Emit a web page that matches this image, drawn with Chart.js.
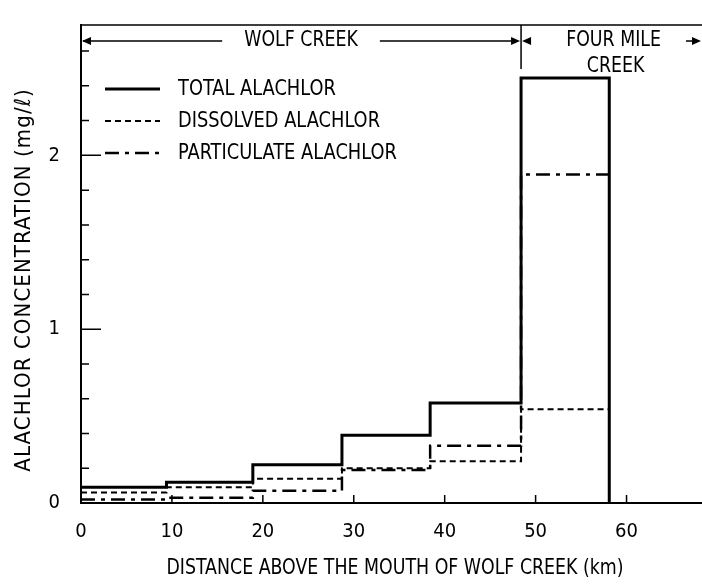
<!DOCTYPE html>
<html>
<head>
<meta charset="utf-8">
<script src="https://cdn.jsdelivr.net/npm/chart.js@4.4.1/dist/chart.umd.min.js"></script>
<style>
  html, body { margin: 0; padding: 0; background: #fff; }
  #wrap { width: 702px; height: 588px; }
</style>
</head>
<body>
<div id="wrap"><canvas id="c" width="702" height="588"></canvas></div>
<script>
const FONT = '"Liberation Sans Narrow", "DejaVu Sans Condensed", "Roboto Condensed", sans-serif';

// Reach boundaries along the stream (km above the mouth of Wolf Creek)
const reachBounds = [0, 9.4, 18.9, 28.7, 38.4, 48.4, 58.1];
// Mean concentration over each reach (mg/ℓ)
const totalAlachlor       = [0.09, 0.12, 0.22, 0.39, 0.575, 2.445];
const dissolvedAlachlor   = [0.06, 0.09, 0.14, 0.20, 0.24, 0.54];
const particulateAlachlor = [0.02, 0.03, 0.07, 0.19, 0.33, 1.89];

// Axis ticks
const xTickValues  = [0, 10, 20, 30, 40, 50, 60];
const yLabelValues = [0, 1, 2];
const yMinorValues = [0.2, 0.4, 0.6, 0.8, 1.2, 1.4, 1.6, 1.8, 2.2, 2.4, 2.6];

const seriesLabels = ['TOTAL ALACHLOR', 'DISSOLVED ALACHLOR', 'PARTICULATE ALACHLOR'];
const xTitle = 'DISTANCE ABOVE THE MOUTH OF WOLF CREEK (km)';
const yTitle = 'ALACHLOR CONCENTRATION (mg/ℓ)';
const wolfCreekLabel = 'WOLF CREEK';
const fourMileLabel = ['FOUR MILE', 'CREEK'];
const creekJunctionKm = reachBounds[5];

// One point at the start of every reach plus the end of the last reach
function stepPoints(values, dropToZero) {
  const pts = values.map((v, i) => ({ x: reachBounds[i], y: v }));
  const end = reachBounds[reachBounds.length - 1];
  pts.push({ x: end, y: values[values.length - 1] });
  if (dropToZero) pts.push({ x: end, y: 0 });
  return pts;
}

const seriesStyles = [
  { width: 3,   dash: [] },
  { width: 2,   dash: [6, 4] },
  { width: 2.5, dash: [14, 6, 4, 6] }
];

// Narrow lettering: text squeezed horizontally around its anchor
function letter(ctx, text, x, y, size, squeeze, align, angle, spacing) {
  ctx.save();
  ctx.translate(x, y);
  if (angle) ctx.rotate(angle);
  ctx.scale(squeeze, 1);
  ctx.font = size + 'px ' + FONT;
  if (spacing) ctx.letterSpacing = spacing;
  ctx.textAlign = align;
  ctx.textBaseline = 'middle';
  ctx.fillText(text, 0, 0);
  const w = ctx.measureText(text).width * squeeze;
  ctx.restore();
  return w;
}

function arrowHead(ctx, x, y, dir) {
  ctx.beginPath();
  ctx.moveTo(x, y);
  ctx.lineTo(x - dir * 9, y - 4);
  ctx.lineTo(x - dir * 9, y + 4);
  ctx.closePath();
  ctx.fill();
}

const annotations = {
  id: 'annotations',
  afterDatasetsDraw(chart) {
    const { ctx, chartArea: a, scales: { x, y } } = chart;
    ctx.save();
    ctx.strokeStyle = '#000';
    ctx.fillStyle = '#000';

    // inward tick marks
    ctx.lineWidth = 1.5;
    ctx.beginPath();
    yLabelValues.forEach(v => {
      if (v === 0) return;
      const py = y.getPixelForValue(v);
      ctx.moveTo(a.left, py); ctx.lineTo(a.left + 20, py);
    });
    yMinorValues.forEach(v => {
      const py = y.getPixelForValue(v);
      ctx.moveTo(a.left, py); ctx.lineTo(a.left + 8, py);
    });
    xTickValues.forEach(v => {
      if (v === 0) return;
      const px = x.getPixelForValue(v);
      ctx.moveTo(px, a.bottom); ctx.lineTo(px, a.bottom - 8);
    });
    // top frame line and creek divider
    ctx.moveTo(a.left, a.top); ctx.lineTo(a.right, a.top);
    const xj = x.getPixelForValue(creekJunctionKm);
    ctx.moveTo(xj, a.top); ctx.lineTo(xj, a.top + 44);
    ctx.stroke();

    // stream reach header
    const ay = a.top + 16;
    const wcx = (a.left + xj) / 2;
    const wcw = letter(ctx, wolfCreekLabel, wcx, ay, 21, 0.92, 'center');
    ctx.lineWidth = 1.5;
    ctx.beginPath();
    ctx.moveTo(a.left + 2, ay); ctx.lineTo(wcx - wcw / 2 - 22, ay);
    ctx.moveTo(wcx + wcw / 2 + 22, ay); ctx.lineTo(xj - 4, ay);
    ctx.stroke();
    arrowHead(ctx, a.left + 1, ay, -1);
    arrowHead(ctx, xj - 1, ay, 1);
    arrowHead(ctx, xj + 1, ay, -1);

    const fmx = (xj + a.right) / 2 + 2;
    letter(ctx, fourMileLabel[0], fmx, ay, 21, 0.92, 'center');
    letter(ctx, fourMileLabel[1], fmx + 2, ay + 26, 21, 0.92, 'center');
    ctx.beginPath();
    ctx.moveTo(a.right - 16, ay); ctx.lineTo(a.right - 4, ay);
    ctx.stroke();
    arrowHead(ctx, a.right - 1, ay, 1);

    // legend
    const lx0 = a.left + 24, lx1 = a.left + 79, tx = a.left + 97;
    const rows = [a.top + 64, a.top + 96, a.top + 128];
    rows.forEach((ry, i) => {
      ctx.lineWidth = seriesStyles[i].width;
      ctx.setLineDash(seriesStyles[i].dash);
      ctx.beginPath();
      ctx.moveTo(lx0, ry); ctx.lineTo(lx1, ry);
      ctx.stroke();
      ctx.setLineDash([]);
      letter(ctx, seriesLabels[i], tx, ry, 22, 0.9, 'left');
    });

    // axis titles
    letter(ctx, xTitle, 395, 569, 21, 0.92, 'center');
    letter(ctx, yTitle, 24, 280, 22, 1, 'center', -Math.PI / 2, '1.1px');
    ctx.restore();
  }
};

const ds = (label, values, i, drop) => ({
  label,
  data: stepPoints(values, drop),
  borderColor: '#000',
  backgroundColor: '#000',
  borderWidth: seriesStyles[i].width,
  borderDash: seriesStyles[i].dash,
  borderCapStyle: 'butt',
  borderJoinStyle: 'miter',
  stepped: 'before',
  pointRadius: 0,
  fill: false,
  tension: 0
});

new Chart(document.getElementById('c'), {
  type: 'line',
  data: {
    datasets: [
      ds(seriesLabels[0], totalAlachlor, 0, true),
      ds(seriesLabels[1], dissolvedAlachlor, 1, false),
      ds(seriesLabels[2], particulateAlachlor, 2, false)
    ]
  },
  options: {
    responsive: false,
    animation: false,
    devicePixelRatio: 1,
    layout: { padding: { top: 6, right: 0, left: 0, bottom: 0 } },
    plugins: { legend: { display: false }, tooltip: { enabled: false } },
    scales: {
      x: {
        type: 'linear',
        min: 0,
        max: 68.3,
        afterBuildTicks: s => { s.ticks = xTickValues.map(v => ({ value: v })); },
        afterFit: s => { s.height = 85; },
        grid: { display: false },
        border: { display: true, color: '#000', width: 2 },
        ticks: { color: '#000', font: { family: FONT, size: 20 }, padding: 9, maxRotation: 0, autoSkip: false },
        title: { display: false }
      },
      y: {
        type: 'linear',
        min: 0,
        max: 2.75,
        afterBuildTicks: s => { s.ticks = yLabelValues.map(v => ({ value: v })); },
        afterFit: s => { s.width = 81; },
        grid: { display: false },
        border: { display: true, color: '#000', width: 2 },
        ticks: { color: '#000', font: { family: FONT, size: 20 }, padding: 13 },
        title: { display: false }
      }
    }
  },
  plugins: [annotations]
});
</script>
</body>
</html>
